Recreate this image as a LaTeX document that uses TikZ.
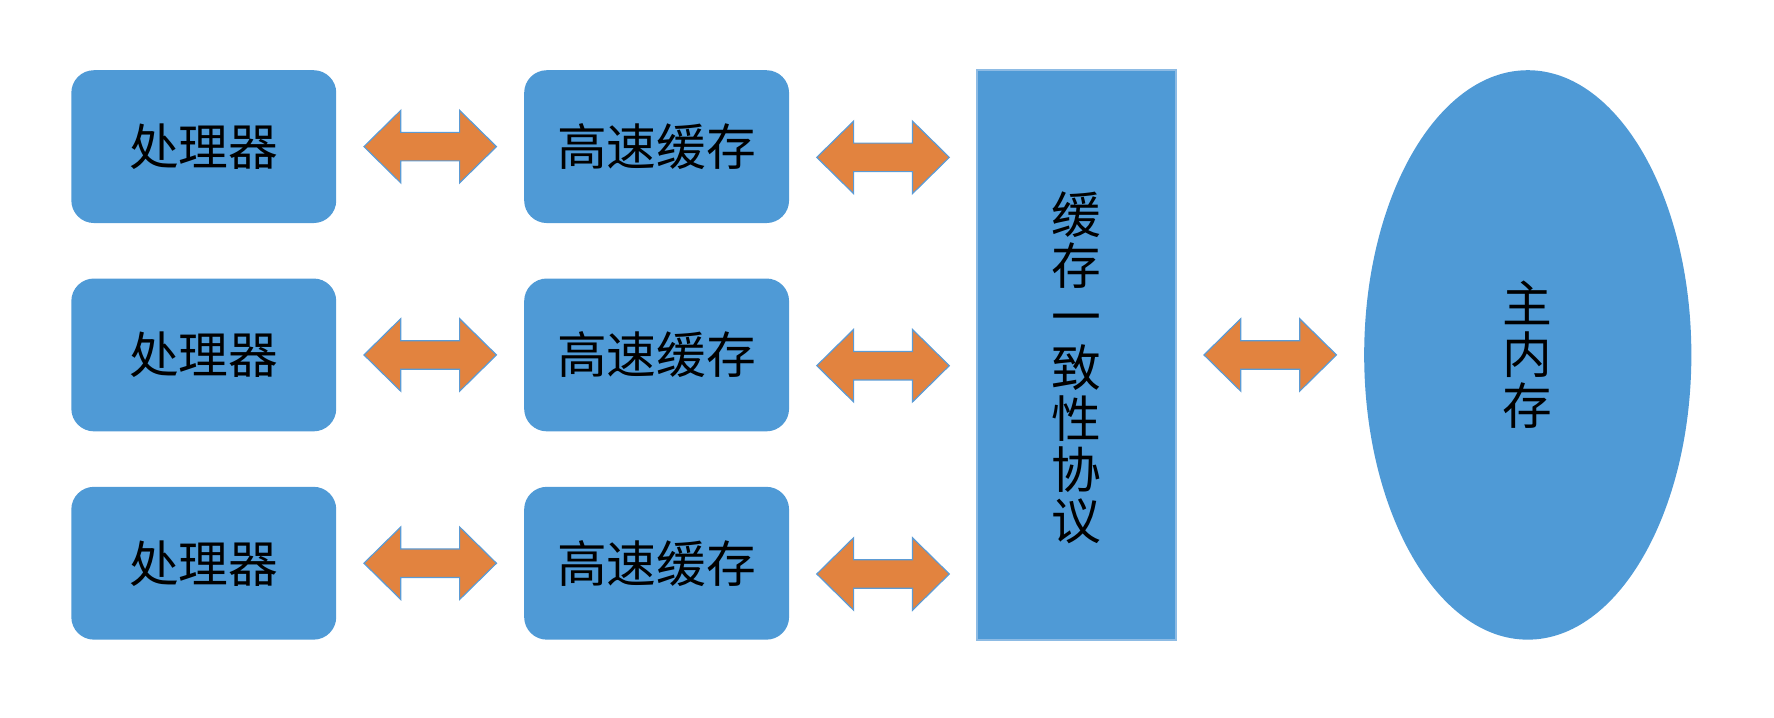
\documentclass[tikz,border=0pt]{standalone}
\usepackage{fontspec}
\newfontfamily\cjk{Noto Sans CJK SC}
\usetikzlibrary{positioning,calc,shapes.geometric}

\definecolor{boxblue}{HTML}{4F9AD6}
\definecolor{linkorange}{HTML}{E2833F}
\definecolor{edgeblue}{HTML}{5B9BD5}
\definecolor{rimblue}{HTML}{8DBBE4}

\tikzset{
    cjktext/.style={font=\cjk\fontsize{12.5}{12.8}\selectfont, text=black},
    unitbox/.style={rectangle, rounded corners=0.2cm, fill=boxblue, outer sep=0pt,
        minimum width=2.34cm, minimum height=1.35cm, inner sep=0pt, cjktext},
    protobox/.style={rectangle, fill=boxblue, draw=rimblue, line width=0.5pt,
        outer sep=0pt, minimum width=1.76cm, minimum height=5.03cm, inner sep=0pt},
    memory/.style={ellipse, fill=boxblue, minimum width=2.89cm, outer sep=0pt,
        minimum height=5.03cm, inner sep=0pt, cjktext, align=center},
    linkbody/.style={fill=linkorange, draw=edgeblue, line width=0.3pt}
}

% block arrow with two heads, centred on a named coordinate
\newcommand{\dblarrow}[1]{%
    \draw[linkbody] ($(#1)+(-0.585,0)$) -- ++(0.325,0.32) -- ++(0,-0.194)
        -- ++(0.52,0) -- ++(0,0.194) -- ++(0.325,-0.32) -- ++(-0.325,-0.32)
        -- ++(0,0.194) -- ++(-0.52,0) -- ++(0,-0.194) -- cycle;}

\begin{document}
\begin{tikzpicture}
    \useasboundingbox (0,0) rectangle (15.67,-6.34);

    % processors and their caches
    \node[unitbox] (p1) at (1.80,-1.295) {处理器};
    \node[unitbox, below=0.49cm of p1] (p2) {处理器};
    \node[unitbox, below=0.49cm of p2] (p3) {处理器};
    \foreach \i in {1,2,3} {
        \node[unitbox, right=1.66cm of p\i] (c\i) {高速缓存};
    }

    % coherence protocol and main memory
    \node[protobox] (proto) at (9.51,-3.135) {};
    \node[cjktext, align=center] (protolabel) at ($(proto.center)+(0,-0.115)$)
        {缓\\存\\一\\致\\性\\协\\议};
    \node[memory] (mem) at (13.495,-3.135) {主\\内\\存};

    % links
    \foreach \i in {1,2,3} {
        \coordinate (a\i) at ($(p\i.east)!0.5!(c\i.west)$);
        \coordinate (b\i) at ($(c\i.east)!0.5!(proto.west |- c\i.east)+(0,-0.095)$);
        \dblarrow{a\i}
        \dblarrow{b\i}
    }
    \coordinate (m1) at ($(proto.east)!0.5!(mem.west)$);
    \dblarrow{m1}
\end{tikzpicture}
\end{document}
